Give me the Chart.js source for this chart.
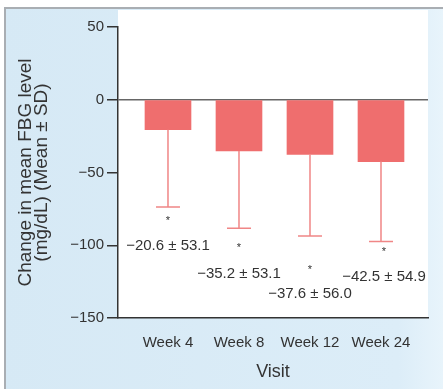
<!DOCTYPE html>
<html>
<head>
<meta charset="utf-8">
<script src="https://cdn.jsdelivr.net/npm/chart.js@4"></script>
<style>
  html, body { margin: 0; padding: 0; background: #ffffff; }
  #wrap { position: relative; width: 443px; height: 392px; }
</style>
</head>
<body>
<div id="wrap"><canvas id="fbgChart"></canvas></div>
<script>
// chart data
const visits = ['Week 4', 'Week 8', 'Week 12', 'Week 24'];
const meanChange = [-20.6, -35.2, -37.6, -42.5];
const sdChange = [53.1, 53.1, 56.0, 54.9];
const yTicks = [50, 0, -50, -100, -150];

const minus = s => String(s).replace('-', '\u2212');

// where the "mean ± SD" text and the asterisks sit (value units on the y axis)
const starAt = [-82, -100.5, -115.5, -103];
const noteAt = [-100.5, -120, -133.5, -121.5];
const noteShift = [0, 0, 0, 3];

const panelPlugin = {
    id: 'panel',
    beforeDraw(chart) {
        const ctx = chart.ctx;
        const a = chart.chartArea;
        ctx.save();
        // outer light blue frame
        const g = ctx.createLinearGradient(0, 0, 443, 0);
        g.addColorStop(0, '#d6e9f5');
        g.addColorStop(0.9, '#dcedf8');
        g.addColorStop(1, '#e8f4fb');
        ctx.fillStyle = g;
        ctx.fillRect(5, 8, 438, 381);
        // white plot panel
        ctx.fillStyle = '#ffffff';
        ctx.fillRect(a.left, 10, a.right - a.left, a.bottom - 10);
        // frame lines
        ctx.strokeStyle = '#a9aeb3';
        ctx.lineWidth = 2;
        ctx.beginPath();
        ctx.moveTo(443, 8);
        ctx.lineTo(5, 8);
        ctx.lineTo(5, 389);
        ctx.stroke();
        ctx.restore();
    }
};

const errorPlugin = {
    id: 'errors',
    afterDatasetsDraw(chart) {
        const ctx = chart.ctx;
        const xs = chart.scales.x;
        const ys = chart.scales.y;
        ctx.save();
        meanChange.forEach((m, i) => {
            const x = xs.getPixelForValue(i);
            const yTop = ys.getPixelForValue(m);
            const yLow = ys.getPixelForValue(m - sdChange[i]);
            ctx.strokeStyle = '#f08686';
            ctx.lineWidth = 1.5;
            ctx.beginPath();
            ctx.moveTo(x, yTop);
            ctx.lineTo(x, yLow);
            ctx.moveTo(x - 12, yLow);
            ctx.lineTo(x + 12, yLow);
            ctx.stroke();

            ctx.fillStyle = '#333333';
            ctx.textAlign = 'center';
            ctx.textBaseline = 'middle';
            ctx.font = '11px "Liberation Sans", Arial, sans-serif';
            ctx.fillText('*', x + noteShift[i], ys.getPixelForValue(starAt[i]) + 2);
            ctx.font = '15px "Liberation Sans", Arial, sans-serif';
            const txt = minus(m.toFixed(1)) + ' \u00b1 ' + sdChange[i].toFixed(1);
            ctx.fillText(txt, x + noteShift[i], ys.getPixelForValue(noteAt[i]));
        });
        ctx.restore();
    }
};

document.addEventListener('DOMContentLoaded', function() {
    const ctx = document.getElementById('fbgChart').getContext('2d');
    const chart = new Chart(ctx, {
        type: 'bar',
        data: {
            datasets: [{
                data: meanChange.map((v, i) => ({ x: i, y: v })),
                backgroundColor: '#ef6e6e',
                borderWidth: 0,
                barThickness: 46
            }]
        },
        options: {
            responsive: true,
            maintainAspectRatio: false,
            animation: false,
            layout: { padding: { top: 27, right: 15, left: 0, bottom: 0 } },
            plugins: {
                legend: { display: false },
                tooltip: { enabled: false }
            },
            scales: {
                x: {
                    type: 'linear',
                    offset: false,
                    min: -0.704,
                    max: 3.662,
                    afterBuildTicks: axis => { axis.ticks = visits.map((v, i) => ({ value: i })); },
                    afterFit: axis => { axis.height = 74; },
                    grid: { display: false, drawTicks: false, offset: false },
                    border: { display: true, color: '#333333', width: 1.5 },
                    ticks: {
                        padding: 16,
                        color: '#333333',
                        font: { family: '"Liberation Sans", Arial, sans-serif', size: 15 },
                        callback: v => visits[v]
                    },
                    title: {
                        display: true,
                        text: 'Visit',
                        color: '#333333',
                        padding: { top: 0, bottom: 9 },
                        font: { family: '"Liberation Sans", Arial, sans-serif', size: 18 }
                    }
                },
                y: {
                    min: -150,
                    max: 50,
                    afterBuildTicks: axis => { axis.ticks = yTicks.map(v => ({ value: v })); },
                    afterFit: axis => { axis.width = 118; },
                    grid: {
                        drawOnChartArea: true,
                        drawTicks: true,
                        tickLength: 11,
                        lineWidth: 1.5,
                        color: c => (c.tick && c.tick.value === 0 ? '#666666' : 'rgba(0,0,0,0)'),
                        tickColor: '#333333'
                    },
                    border: { display: true, color: '#333333', width: 1.5 },
                    ticks: {
                        padding: 3,
                        color: '#333333',
                        font: { family: '"Liberation Sans", Arial, sans-serif', size: 15 },
                        callback: v => minus(v)
                    },
                    title: {
                        display: true,
                        text: ['Change in mean FBG level', '(mg/dL) (Mean \u00b1 SD)'],
                        color: '#333333',
                        padding: { top: 18, bottom: 0 },
                        font: { family: '"Liberation Sans", Arial, sans-serif', size: 19, lineHeight: 0.85 }
                    }
                }
            }
        },
        plugins: [panelPlugin, errorPlugin]
    });
});
</script>
</body>
</html>
